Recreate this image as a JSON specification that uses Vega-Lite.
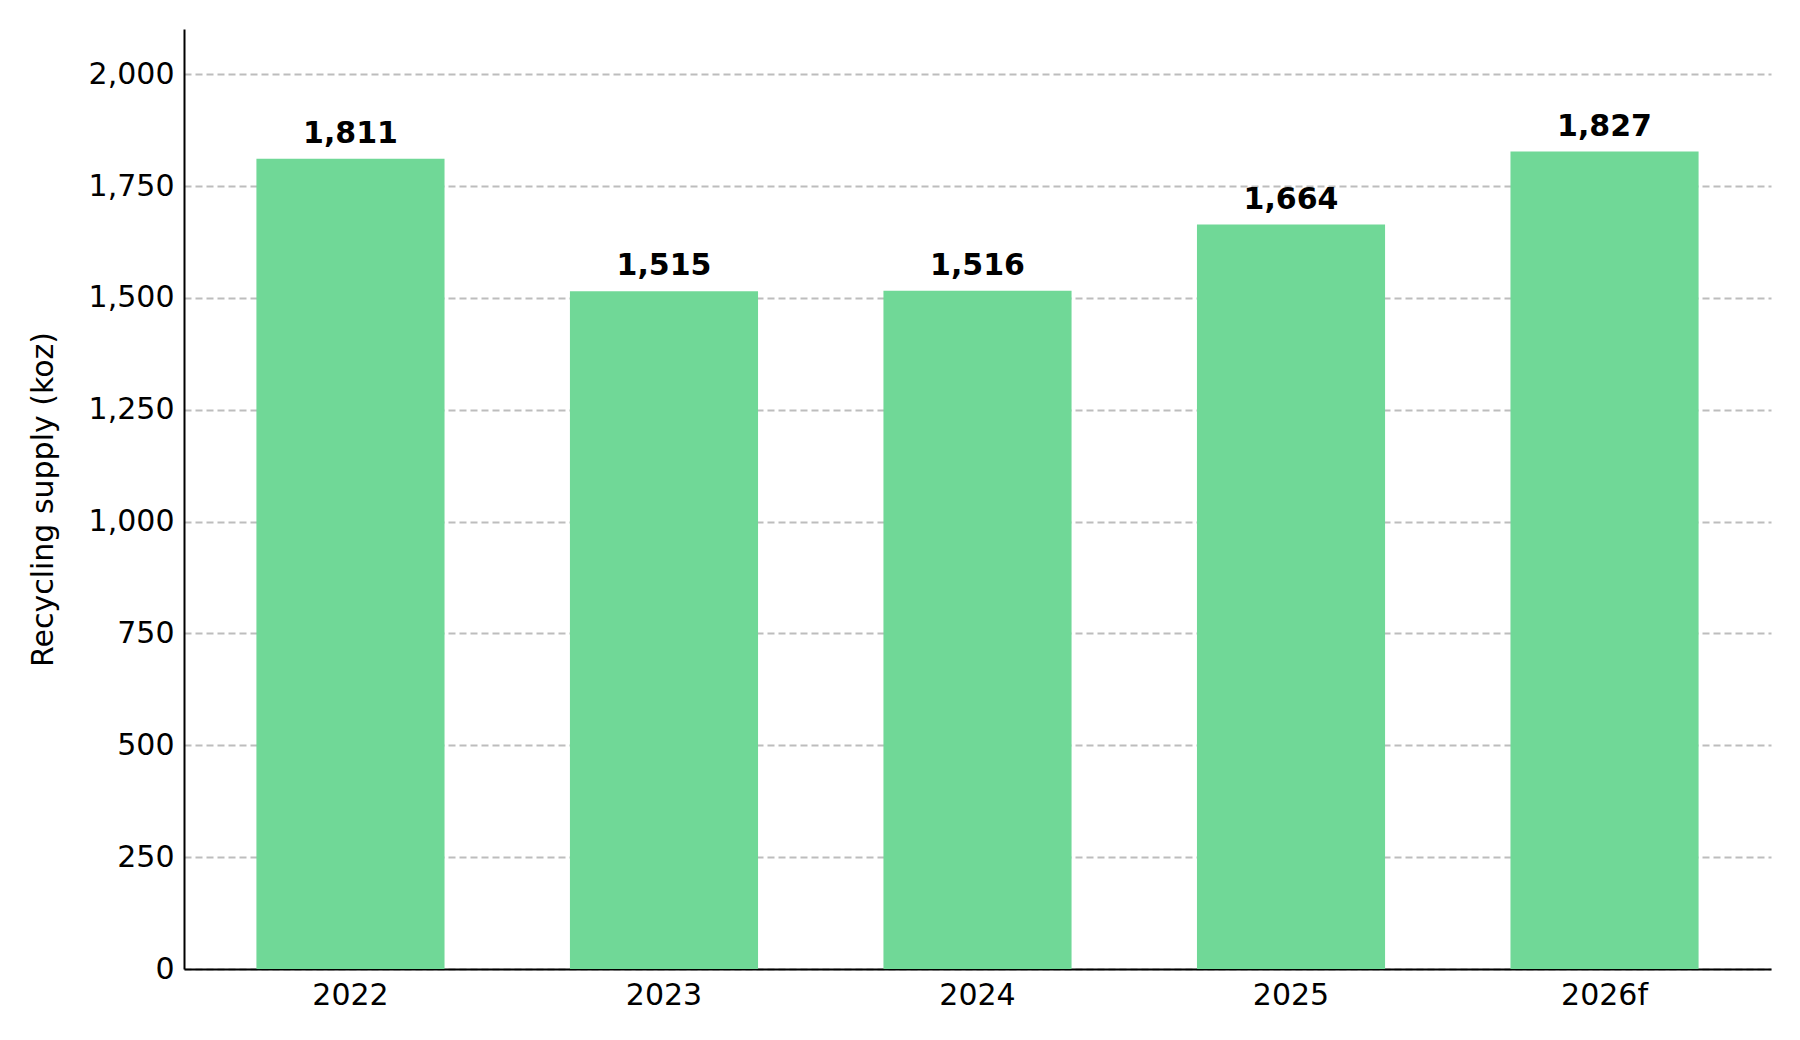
{
  "$schema": "https://vega.github.io/schema/vega-lite/v6.json",
  "width": 1587,
  "height": 940,
  "autosize": {"type": "none"},
  "padding": {"left": 184, "top": 29, "right": 29, "bottom": 71},
  "background": "white",
  "config": {
    "view": {"stroke": null},
    "font": "DejaVu Sans",
    "axis": {
      "labelFont": "DejaVu Sans",
      "titleFont": "DejaVu Sans",
      "labelFontSize": 30,
      "titleFontSize": 30,
      "labelColor": "black",
      "titleColor": "black",
      "titleFontWeight": "normal",
      "domainColor": "black",
      "domainWidth": 2,
      "ticks": false,
      "tickSize": 0
    }
  },
  "data": {
    "values": [
      {"year": "2022", "supply": 1811},
      {"year": "2023", "supply": 1515},
      {"year": "2024", "supply": 1516},
      {"year": "2025", "supply": 1664},
      {"year": "2026f", "supply": 1827}
    ]
  },
  "encoding": {
    "x": {
      "field": "year",
      "type": "nominal",
      "sort": null,
      "scale": {"paddingInner": 0.4, "paddingOuter": 0.231},
      "axis": {
        "title": null,
        "labelAngle": 0,
        "labelPadding": 11,
        "grid": false
      }
    },
    "y": {
      "field": "supply",
      "type": "quantitative",
      "scale": {"domain": [0, 2101], "nice": false},
      "axis": {
        "title": "Recycling supply (koz)",
        "values": [0, 250, 500, 750, 1000, 1250, 1500, 1750, 2000],
        "format": ",d",
        "labelPadding": 10,
        "titlePadding": 30,
        "grid": true,
        "gridColor": "#bdbdbd",
        "gridWidth": 2,
        "gridDash": [7, 4]
      }
    }
  },
  "layer": [
    {
      "mark": {"type": "bar", "color": "#70d897"}
    },
    {
      "mark": {
        "type": "text",
        "font": "DejaVu Sans",
        "fontSize": 30,
        "fontWeight": "bold",
        "color": "black",
        "baseline": "alphabetic",
        "dy": -16
      },
      "encoding": {
        "text": {"field": "supply", "type": "quantitative", "format": ",d"}
      }
    }
  ]
}
